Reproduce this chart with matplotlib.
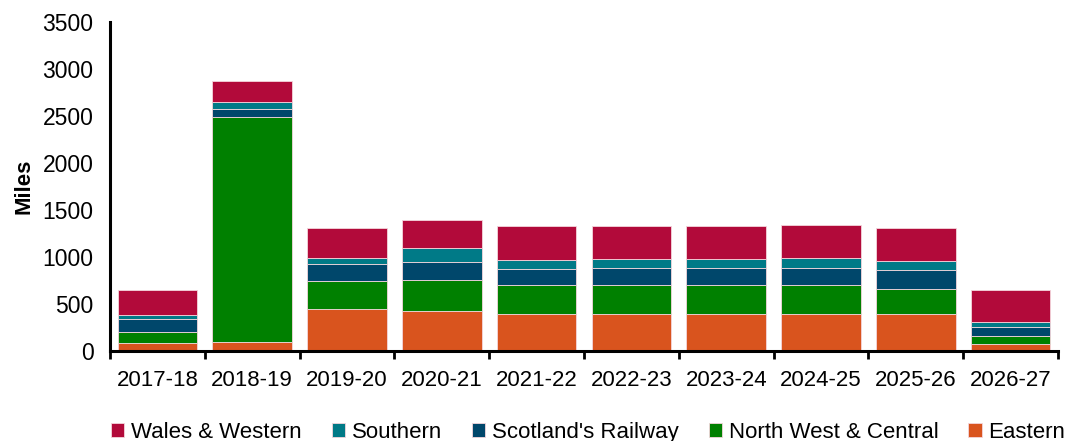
import matplotlib.pyplot as plt
import numpy as np

plt.rcParams['font.family'] = ['Liberation Sans', 'DejaVu Sans']

years = ['2017-18', '2018-19', '2019-20', '2020-21', '2021-22',
         '2022-23', '2023-24', '2024-25', '2025-26', '2026-27']

# miles per route, stacked bottom to top
eastern = [82, 96, 447, 426, 390, 390, 390, 390, 390, 71]
north_west_central = [120, 2390, 298, 329, 309, 309, 309, 309, 270, 92]
scotlands_railway = [135, 92, 177, 192, 177, 188, 181, 181, 205, 96]
southern = [43, 75, 71, 152, 92, 92, 99, 113, 93, 46]
wales_western = [269, 223, 319, 295, 359, 348, 348, 348, 354, 344]

series = [
    ('Eastern', eastern, '#D9541E'),
    ('North West & Central', north_west_central, '#008000'),
    ("Scotland's Railway", scotlands_railway, '#00476B'),
    ('Southern', southern, '#007A87'),
    ('Wales & Western', wales_western, '#B20A3A'),
]

fig = plt.figure(figsize=(10.79, 4.41), dpi=100)
ax = fig.add_axes([0.102, 0.204, 0.8785, 0.746])

x = np.arange(len(years))
bottom = np.zeros(len(years))
handles = {}
for name, vals, col in series:
    b = ax.bar(x, vals, 0.84, bottom=bottom, color=col,
               edgecolor='#f4d6dc', linewidth=0.6, label=name)
    handles[name] = b
    bottom += np.array(vals)

ax.set_xlim(-0.5, len(years) - 0.5)
ax.set_ylim(0, 3500)
ax.set_yticks(np.arange(0, 3501, 500))
ax.set_xticks(x)
ax.set_xticklabels(years)
ax.set_xticks(np.arange(-0.5, len(years)), minor=True)
ax.tick_params(axis='x', which='major', length=0, pad=14, labelsize=16)
ax.tick_params(axis='x', which='minor', length=6, width=2, direction='out')
ax.tick_params(axis='y', length=0, pad=12, labelsize=16.5)

for s in ['top', 'right']:
    ax.spines[s].set_visible(False)
for s in ['left', 'bottom']:
    ax.spines[s].set_linewidth(2.2)

ax.set_ylabel('Miles', fontsize=16, fontweight='bold', labelpad=6)

order = ['Wales & Western', 'Southern', "Scotland's Railway",
         'North West & Central', 'Eastern']
fig.legend([handles[n] for n in order], order, loc='lower center',
           bbox_to_anchor=(0.545, -0.05), ncol=5, frameon=False,
           fontsize=16, handlelength=0.6, handleheight=0.6,
           handletextpad=0.3, columnspacing=1.35)

fig.savefig('out.png', dpi=100)
